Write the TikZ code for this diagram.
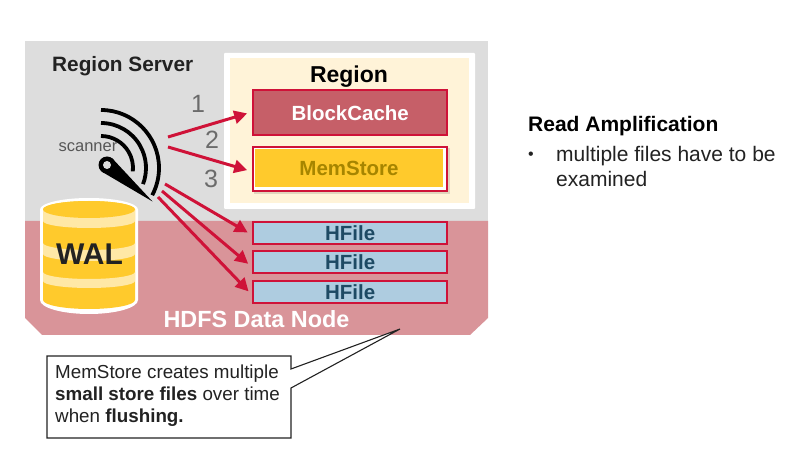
\documentclass[tikz,border=0pt]{standalone}
\usepackage{fontspec}
\setmainfont{Liberation Sans}
\usetikzlibrary{arrows.meta}
\definecolor{srvgray}{HTML}{DDDDDD}
\definecolor{nodepink}{HTML}{D99499}
\definecolor{cream}{HTML}{FFF3D8}
\definecolor{crim}{HTML}{CF1238}
\definecolor{cachefill}{HTML}{C65F68}
\definecolor{gold}{HTML}{FFCA2C}
\definecolor{paleg}{HTML}{FFE8A6}
\definecolor{memtxt}{HTML}{A68500}
\definecolor{hfill}{HTML}{AECCE0}
\definecolor{htxt}{HTML}{1E4A64}
\definecolor{numgray}{HTML}{6B6B6B}
\definecolor{dark}{HTML}{222222}
\tikzset{
  x=1pt,y=-1pt,
  box/.style={draw=crim,line width=2.4pt,minimum width=194pt,anchor=north west,inner sep=0pt,font=\fontsize{20.5}{22}\selectfont\bfseries},
  hfilebox/.style={box,fill=hfill,text=htxt,minimum height=22pt},
  readarrow/.style={draw=crim,line width=3pt,-{Triangle[length=13pt,width=13pt]},shorten >=5pt},
  num/.style={text=numgray,font=\fontsize{25}{27}\selectfont,inner sep=0pt},
  bodytext/.style={text=dark,inner sep=0pt,anchor=base west,font=\fontsize{21}{24}\selectfont},
  notetext/.style={bodytext,font=\fontsize{18.8}{22}\selectfont},
  arcline/.style={draw=black,line width=3.8pt},
  band/.style={fill=paleg,draw=none},
}
\begin{document}
\begin{tikzpicture}
\useasboundingbox (0,0) rectangle (793,470);
\fill[white] (0,0) rectangle (793,470);
% Region server and data node areas
\fill[srvgray] (25,41) rectangle (488,221);
\fill[nodepink] (25,221) -- (488,221) -- (488,318) -- (470,335) -- (42,335) -- (25,318) -- cycle;
\fill[white,rounded corners=1pt] (224,53) rectangle (475,209);
\fill[cream] (230,58) rectangle (469,203);
% titles
\node[bodytext,font=\fontsize{20.8}{24}\selectfont\bfseries] (srv) at (52,71.5) {Region Server};
\node[bodytext,anchor=base,font=\fontsize{23}{26}\selectfont\bfseries,text=black] (reg) at (349,82.5) {Region};
% boxes
\node[box,fill=cachefill,text=white,minimum height=45pt] (cache) at (252,89) {BlockCache};
\fill[black,opacity=.12] (254,148) rectangle (450,194);
\node[box,fill=white,minimum height=44pt,line width=1.6pt] (memo) at (252,146) {};
\node[fill=gold,draw=none,minimum width=188pt,minimum height=38pt,inner sep=0pt,text=memtxt,font=\fontsize{20.5}{22}\selectfont\bfseries] (mem) at (349,168) {\raisebox{-1.5pt}{MemStore}};
\node[hfilebox] (h1) at (252,221) {HFile};
\node[hfilebox] (h2) at (252,250) {HFile};
\node[hfilebox] (h3) at (252,280) {HFile};
% numbers
\node[num] (n1) at (198,104) {1};
\node[num] (n2) at (212,140) {2};
\node[num] (n3) at (211,179) {3};
% scanner
\draw[arcline] (101,110) arc[start angle=90,end angle=-28,radius=58pt];
\draw[arcline] (101,123) arc[start angle=90,end angle=-21,radius=45pt];
\draw[arcline] (101,136) arc[start angle=90,end angle=-6,radius=32pt];
\fill[black] (107,165) circle[radius=8.5pt];
\fill[black] (152.5,201.5) -- (101.7,171.6) -- (112.3,158.4) -- cycle;
\fill[srvgray] (107,165) circle[radius=4pt];
\node[bodytext,anchor=center,text=numgray!80!black,font=\fontsize{16.5}{18}\selectfont] (scan) at (88,147) {scanner};
% named ends of the arrows
\coordinate (s1) at (168,137);
\coordinate (s2) at (168,147);
\coordinate (s3) at (165,184);
\coordinate (s4) at (162,191);
\coordinate (s5) at (158,197);
\draw[readarrow] (s1) -- (cache.west |- 0,112);
\draw[readarrow] (s2) -- (memo.west |- 0,171.5);
\draw[readarrow] (s3) -- (h1.west |- 0,235);
\draw[readarrow] (s4) -- (h2.west |- 0,267);
\draw[readarrow] (s5) -- (h3.west |- 0,295);
% WAL
\fill[white] (40,209.5) arc[start angle=180,end angle=0,x radius=49pt,y radius=11.5pt] -- (138,300) arc[start angle=360,end angle=180,x radius=49pt,y radius=14pt] -- cycle;
\fill[gold] (43,209.5) arc[start angle=180,end angle=0,x radius=46pt,y radius=8.5pt] -- (135,300) arc[start angle=360,end angle=180,x radius=46pt,y radius=9pt] -- cycle;
\fill[band] (43,209.5) -- (135,209.5) -- (135,221) arc[start angle=360,end angle=180,x radius=46pt,y radius=7pt] -- cycle;
\fill[gold] (89,209.5) ellipse[x radius=46pt,y radius=8.5pt];
\fill[band] (43,243) arc[start angle=180,end angle=360,x radius=46pt,y radius=7pt] -- (135,254) arc[start angle=360,end angle=180,x radius=46pt,y radius=7pt] -- cycle;
\fill[band] (43,272) arc[start angle=180,end angle=360,x radius=46pt,y radius=7pt] -- (135,281) arc[start angle=360,end angle=180,x radius=46pt,y radius=7pt] -- cycle;
\node[bodytext,anchor=center,font=\fontsize{30}{34}\selectfont\bfseries,text=dark] (wal) at (89.5,254) {WAL};
\node[bodytext,anchor=center,text=white,font=\fontsize{23.4}{26}\selectfont\bfseries] (hdfs) at (256.5,319) {HDFS Data Node};
% callout
\coordinate (tip) at (400,329);
\draw[draw=dark,fill=white,line width=1.1pt,line join=miter] (47,356) -- (291,356) -- (291,369) -- (tip) -- (291,388) -- (291,438) -- (47,438) -- cycle;
\node[notetext] (c1) at (55,379) {MemStore creates multiple};
\node[notetext] (c2) at (55,400.5) {\textbf{small store files} over time};
\node[notetext] (c3) at (55,422) {when \textbf{flushing.}};
% right text
\node[bodytext,font=\fontsize{21}{24}\selectfont\bfseries,text=black] (ra) at (528,131.5) {Read Amplification};
\node[bodytext,font=\fontsize{16}{18}\selectfont] (bu) at (528,160) {•};
\node[bodytext] (t1) at (556,162) {multiple files have to be};
\node[bodytext] (t2) at (556,187) {examined};
\end{tikzpicture}
\end{document}
